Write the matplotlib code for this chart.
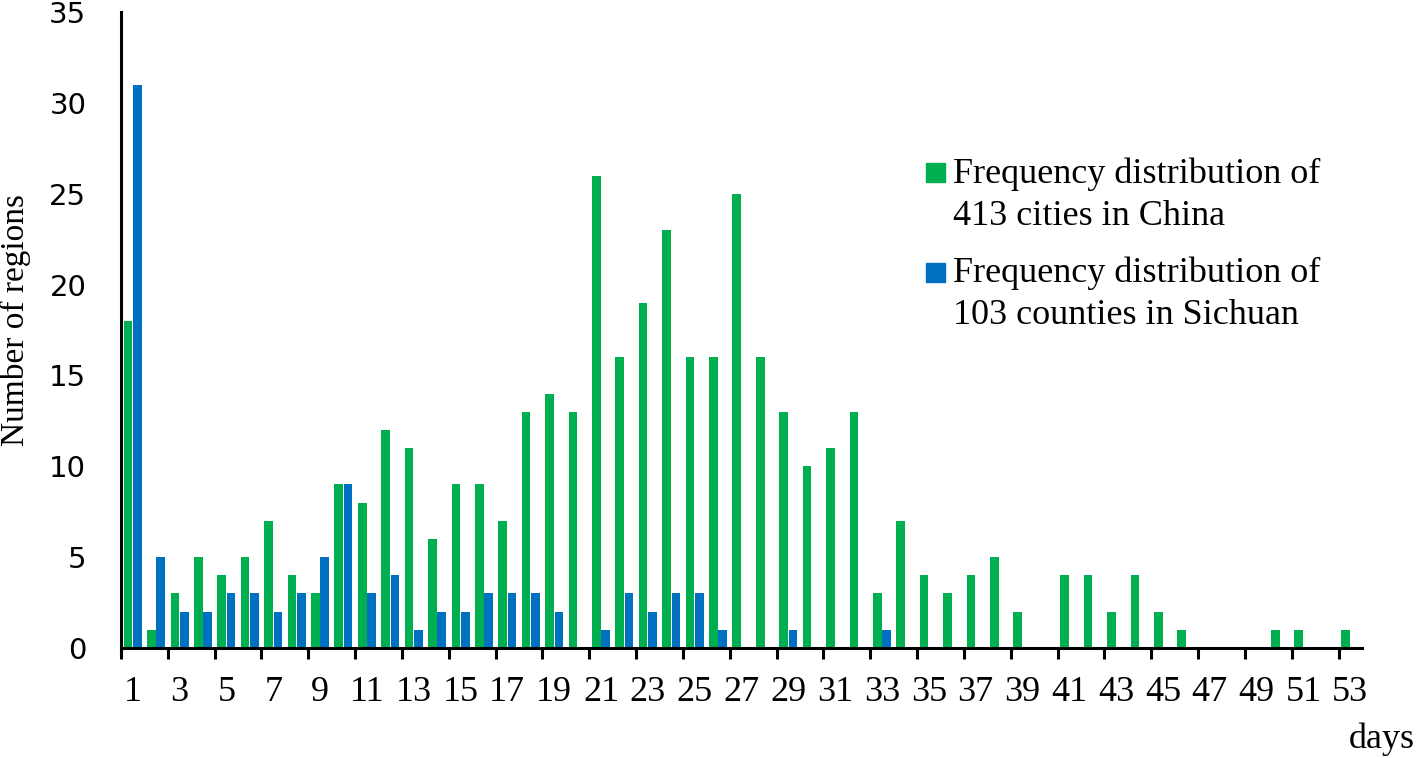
import matplotlib
matplotlib.use("Agg")
import matplotlib.pyplot as plt
from matplotlib.patches import Rectangle
import numpy as np

days = list(range(1, 54))
china = [18, 1, 3, 5, 4, 5, 7, 4, 3, 9, 8, 12, 11, 6, 9, 9, 7, 13, 14, 13,
         26, 16, 19, 23, 16, 16, 25, 16, 13, 10, 11, 13, 3, 7, 4, 3, 4, 5, 2, 0,
         4, 4, 2, 4, 2, 1, 0, 0, 0, 1, 1, 0, 1]
sichuan = [31, 5, 2, 2, 3, 3, 2, 3, 5, 9, 3, 4, 1, 2, 2, 3, 3, 3, 2, 0,
           1, 3, 2, 3, 3, 1, 0, 0, 1, 0, 0, 0, 1, 0, 0, 0, 0, 0, 0, 0,
           0, 0, 0, 0, 0, 0, 0, 0, 0, 0, 0, 0, 0]
label_china = "Frequency distribution of\n413 cities in China"
label_sichuan = "Frequency distribution of\n103 counties in Sichuan"
tick_labels = [str(d) for d in range(1, 54, 2)]
y_ticks = [0, 5, 10, 15, 20, 25, 30, 35]

GREEN = "#00B050"
BLUE = "#0070C0"
SERIF = ["Liberation Serif", "DejaVu Serif"]
W, H = 1418, 758

fig = plt.figure(figsize=(W / 100, H / 100), dpi=100)
ax = fig.add_axes([121 / W, 1 - 648 / H, (1362 - 121) / W, (648 - 12) / H])

x = np.array(days)
ax.bar(x - 0.2, china, width=0.37, color=GREEN, linewidth=0)
ax.bar(x + 0.2, sichuan, width=0.37, color=BLUE, linewidth=0)

ax.set_xlim(0.5, 53.5)
ax.set_ylim(0, 35)

for s in ["top", "right"]:
    ax.spines[s].set_visible(False)
for s in ["left", "bottom"]:
    ax.spines[s].set_linewidth(2.2)
    ax.spines[s].set_color("black")

# y axis
ax.set_yticks(y_ticks)
ax.set_yticklabels([str(v) for v in y_ticks], fontfamily="DejaVu Sans", fontsize=21)
ax.tick_params(axis="y", length=0, pad=25)

# x axis: labels at odd days, tick marks between categories
ax.set_xticks(list(range(1, 54, 2)))
ax.set_xticklabels(tick_labels, fontfamily=SERIF, fontsize=26)
ax.tick_params(axis="x", which="major", length=0, pad=20)
ax.set_xticks(np.arange(0.5, 53.5, 2), minor=True)
ax.tick_params(axis="x", which="minor", length=8, width=2.2, direction="out")

ax.set_ylabel("Number of regions", fontfamily=SERIF, fontsize=24)
ax.yaxis.set_label_coords((31 - 121) / (1362 - 121), 0.516)

fig.text(1415 / W, 1 - 748 / H, "days", ha="right", va="baseline",
         fontfamily=SERIF, fontsize=26)

# legend drawn manually
def legend_entry(color, text, y_top_marker, baseline1):
    fig.patches.append(Rectangle((926 / W, 1 - (y_top_marker + 19) / H), 19 / W, 19 / H,
                                 transform=fig.transFigure, color=color, figure=fig))
    l1, l2 = text.split("\n")
    fig.text(953 / W, 1 - baseline1 / H, l1, ha="left", va="baseline",
             fontfamily=SERIF, fontsize=26)
    fig.text(953 / W, 1 - (baseline1 + 42) / H, l2, ha="left", va="baseline",
             fontfamily=SERIF, fontsize=26)

legend_entry(GREEN, label_china, 163, 183)
legend_entry(BLUE, label_sichuan, 263, 282)

fig.savefig("out.png", dpi=100)
